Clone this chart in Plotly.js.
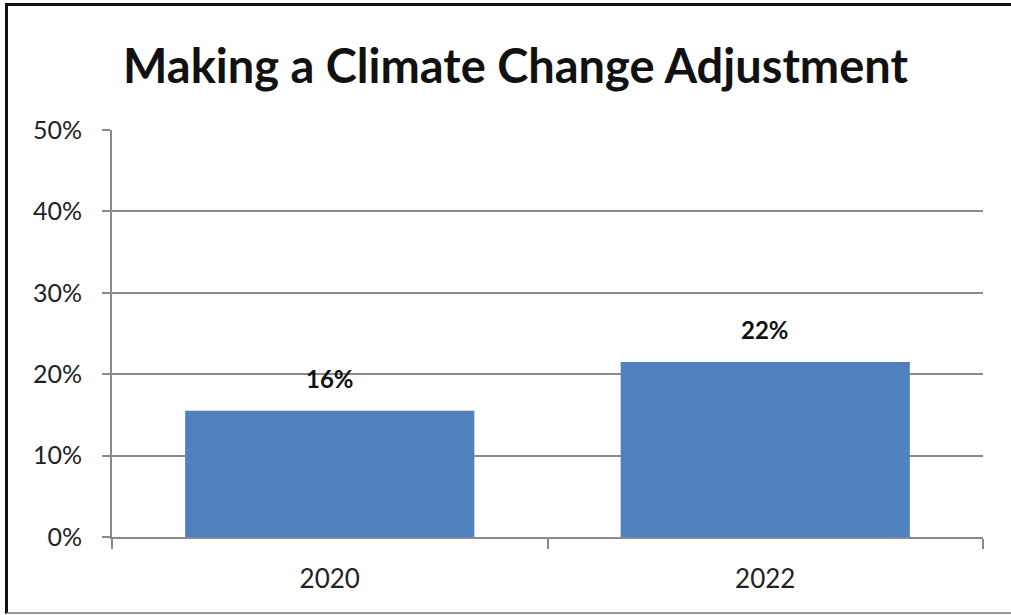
<!DOCTYPE html>
<html>
<head>
<meta charset="utf-8">
<script src="https://cdn.plot.ly/plotly-3.0.1.min.js"></script>
<style>
  html, body { margin: 0; padding: 0; background: #fff; }
  #frame {
    position: absolute; left: 5px; top: 3px;
    width: 1006px; height: 611px;
    border-top: 3px solid #111; border-left: 3px solid #111;
    border-bottom: 2px solid #999;
    box-sizing: border-box;
    box-shadow: inset 1px 1px 0 #999;
  }
  #chart { position: absolute; left: 0; top: 0; width: 1003px; height: 606px; }
</style>
</head>
<body>
<div id="frame"><div id="chart"></div></div>
<script>
// Share of respondents making a climate change adjustment, by survey year
const years = ['2020', '2022'];
const shares = [15.5, 21.5];
const yTicks = [0, 10, 20, 30, 40, 50];
const yTickLabels = ['0%', '10%', '20%', '30%', '40%', '50%'];

const gridGray = '#8a8a8a';
const font = 'Lato, "Open Sans", sans-serif';

const bars = {
  type: 'bar',
  x: years,
  y: shares,
  marker: { color: '#4F81BD', line: { width: 0 } },
  hoverinfo: 'x+y'
};

// Value labels above each bar; on a category axis the annotation x is the category index
const labels = years.map((yr, i) => ({
  x: i, y: shares[i], xref: 'x', yref: 'y',
  text: Math.round(shares[i]) + '%',
  showarrow: false, yanchor: 'middle', yshift: 32,
  font: { family: font, size: 24, color: '#111', weight: 'bold' }
}));

const layout = {
  width: 1003, height: 606,
  margin: { l: 104, r: 28, t: 124, b: 75 },
  paper_bgcolor: '#fff', plot_bgcolor: '#fff',
  showlegend: false,
  bargap: 0.336,
  title: {
    text: '<b>Making a Climate Change Adjustment</b>',
    x: 0.506, xanchor: 'center', xref: 'container',
    y: 0.9, yanchor: 'middle', yref: 'container',
    font: { family: font, size: 47, color: '#111' }
  },
  xaxis: {
    type: 'category',
    range: [-0.5, 1.5],
    showline: true, linecolor: gridGray, linewidth: 2,
    ticks: 'outside', tickson: 'boundaries', ticklen: 10, tickwidth: 2, tickcolor: gridGray,
    ticklabelstandoff: 18,
    showgrid: false, zeroline: false,
    tickfont: { family: font, size: 26, color: '#222' }
  },
  yaxis: {
    range: [0, 50],
    tickvals: yTicks, ticktext: yTickLabels,
    showline: true, linecolor: gridGray, linewidth: 2,
    ticks: 'outside', ticklen: 8, tickwidth: 2, tickcolor: gridGray,
    ticklabelstandoff: 15,
    showgrid: true, gridcolor: gridGray, gridwidth: 2,
    zeroline: false,
    tickfont: { family: font, size: 25, color: '#222' }
  },
  annotations: labels
};

Plotly.newPlot('chart', [bars], layout, { displayModeBar: false, staticPlot: true });
</script>
</body>
</html>
